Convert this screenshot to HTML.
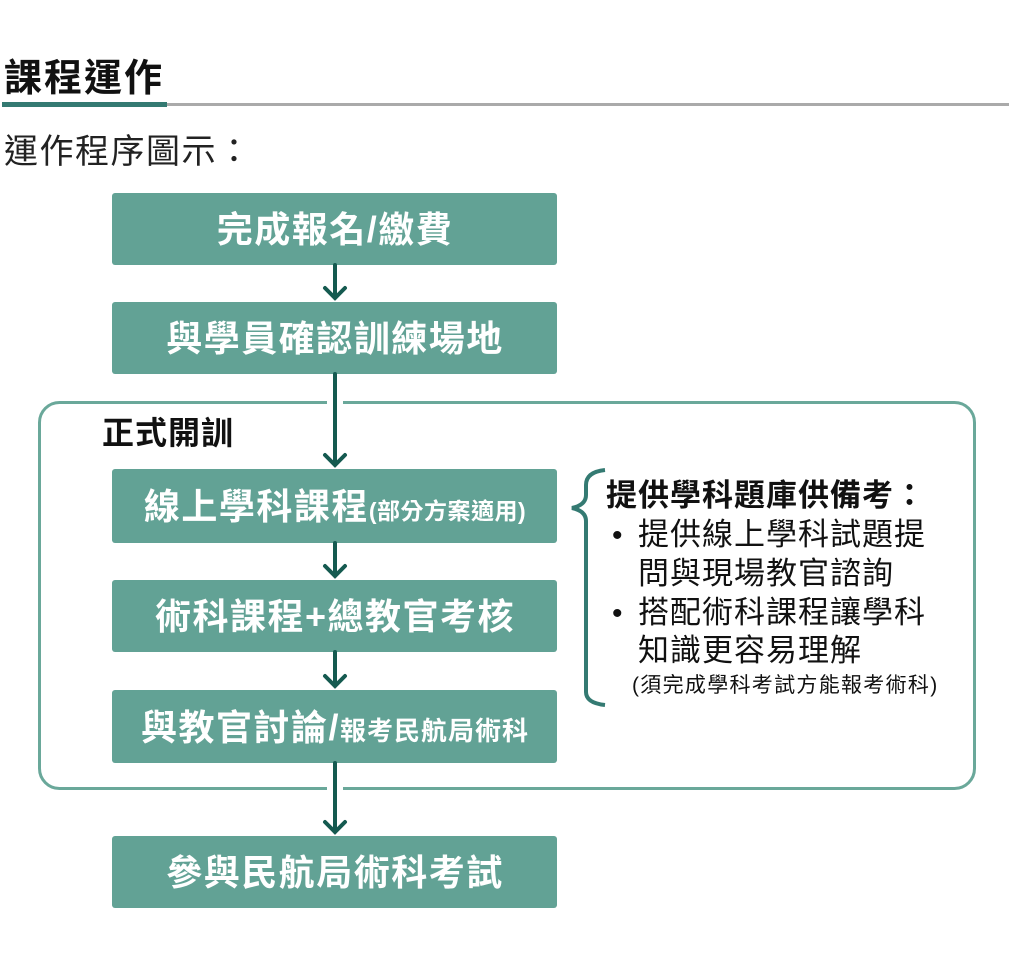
<!DOCTYPE html>
<html><head><meta charset="utf-8"><style>
html,body{margin:0;padding:0;background:#fff;}
body{width:1024px;height:975px;overflow:hidden;}
svg text{font-family:"Liberation Sans","Noto Sans CJK TC",sans-serif;}
</style></head><body>
<svg width="1024" height="975" viewBox="0 0 1024 975" xmlns="http://www.w3.org/2000/svg">
<text x="4" y="91" font-size="38" font-weight="bold" fill="#111" letter-spacing="2">課程運作</text>
<rect x="2" y="103" width="1007" height="3" fill="#aaa"/>
<rect x="2" y="102" width="165" height="5" fill="#347a72"/>
<text x="4" y="163" font-size="34" fill="#222" letter-spacing="1.5">運作程序圖示：</text>

<rect x="39.5" y="402.5" width="935" height="386" rx="20" fill="none" stroke="#6aa89a" stroke-width="3"/>
<rect x="327" y="397" width="16" height="12" fill="#fff"/>
<rect x="327" y="783" width="16" height="12" fill="#fff"/>
<text x="102" y="444" font-size="32" font-weight="bold" fill="#111" letter-spacing="1">正式開訓</text>

<g fill="#62a295">
<rect x="112" y="193" width="445" height="72" rx="3"/>
<rect x="112" y="302" width="445" height="72" rx="3"/>
<rect x="112" y="469" width="445" height="74" rx="3"/>
<rect x="112" y="580" width="445" height="72" rx="3"/>
<rect x="112" y="690" width="445" height="73" rx="3"/>
<rect x="112" y="836" width="445" height="72" rx="3"/>
</g>
<g fill="none" stroke="#155a50" stroke-width="4" stroke-linecap="round">
<path d="M335 265V298M325 288L335 298L345 288"/>
<path d="M335 374V465M325 455L335 465L345 455"/>
<path d="M335 543V576M325 566L335 576L345 566"/>
<path d="M335 652V686M325 676L335 686L345 676"/>
<path d="M335 763V832M325 822L335 832L345 822"/>
</g>
<g fill="#fff" font-weight="bold" text-anchor="middle" letter-spacing="1.5">
<text x="335" y="242" font-size="36">完成報名/繳費</text>
<text x="335" y="351" font-size="36">與學員確認訓練場地</text>
<text x="335" y="519"><tspan font-size="36">線上學科課程</tspan><tspan font-size="23" letter-spacing="0.5">(部分方案適用)</tspan></text>
<text x="335" y="629" font-size="36">術科課程+總教官考核</text>
<text x="335" y="740"><tspan font-size="36">與教官討論/</tspan><tspan font-size="26" letter-spacing="1">報考民航局術科</tspan></text>
<text x="335" y="885" font-size="36">參與民航局術科考試</text>
</g>

<path d="M605 470 Q586 472 586 485 L586 495 Q586 505 572 508 Q586 511 586 521 L586 692 Q586 703 605 705" fill="none" stroke="#347a72" stroke-width="4"/>
<g fill="#111" letter-spacing="1">
<text x="606" y="506" font-size="31" font-weight="bold">提供學科題庫供備考：</text>
<text x="612" y="545" font-size="30">•</text>
<text x="638" y="545" font-size="31">提供線上學科試題提</text>
<text x="638" y="584" font-size="31">問與現場教官諮詢</text>
<text x="612" y="623" font-size="30">•</text>
<text x="638" y="623" font-size="31">搭配術科課程讓學科</text>
<text x="638" y="661" font-size="31">知識更容易理解</text>
<text x="632" y="692" font-size="21" letter-spacing="1.3">(須完成學科考試方能報考術科)</text>
</g>
</svg>
</body></html>
